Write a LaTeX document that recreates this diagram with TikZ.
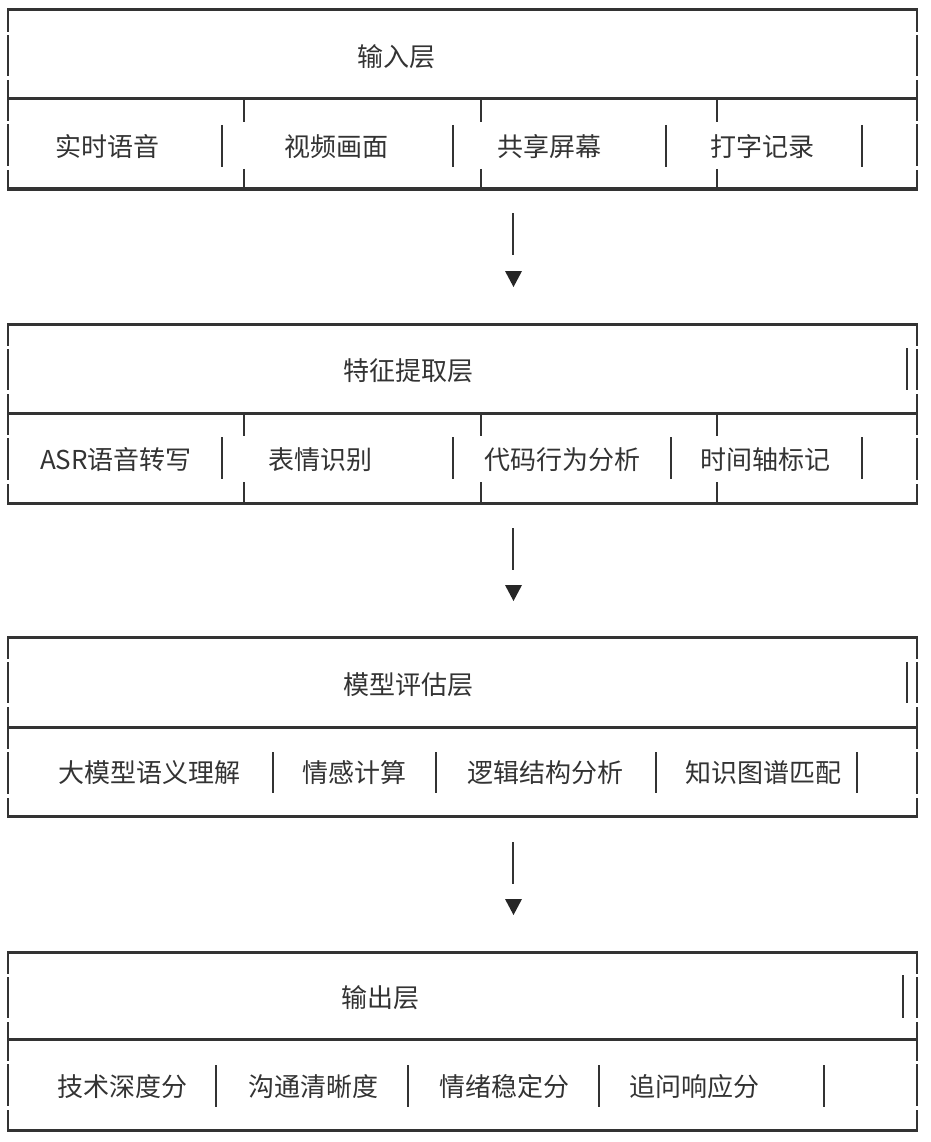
\documentclass[tikz,border=0pt]{standalone}
\usepackage{fontspec}
\setmainfont{Noto Sans CJK SC}
\begin{document}
\begin{tikzpicture}[x=1pt,y=-1pt,
  txt/.style={text=black!80,font=\fontsize{26}{30}\selectfont,inner sep=0pt,anchor=center},
  hl/.style={draw=black!80,line width=3pt},
  vl/.style={draw=black!80,line width=2.4pt},
  tri/.style={fill=black!85}]
\useasboundingbox (0,0) rectangle (930,1142);
% block macro: #1 top, #2 mid, #3 bottom
\newcommand\blockframe[3]{%
  \draw[hl] (7,#1) -- (918,#1);
  \draw[hl] (7,#2) -- (918,#2);
  \draw[hl] (7,#3) -- (918,#3);
  \foreach \xx in {8,917}{
    \draw[vl] (\xx,#1) -- (\xx,#1+22);
    \draw[vl] (\xx,#1+25) -- (\xx,#1+66);
    \draw[vl] (\xx,#1+70) -- (\xx,#2);
    \draw[vl] (\xx,#2) -- (\xx,#2+22);
    \draw[vl] (\xx,#2+25) -- (\xx,#2+67);
    \draw[vl] (\xx,#2+71) -- (\xx,#3);}
}
\newcommand\myarrow[3]{% #1 line top, #2 line bottom, #3 tri top
  \coordinate (#1a) at (513,#1);
  \coordinate (#1b) at (513,#2);
  \draw[vl] (#1a) -- (#1b);
  \fill[tri] (505,#3) -- (522,#3) -- (513.5,#3+16) -- cycle;
}
% Block 1
\blockframe{10}{99}{189}
\foreach \xx in {244,481,717}{\draw[vl] (\xx,99) -- (\xx,122); \draw[vl] (\xx,169) -- (\xx,189);}
\foreach \xx in {222,453,666,862}{\draw[vl] (\xx,125) -- (\xx,167);}
\node[txt] (t1) at (396,57) {输入层};
\node[txt] (a1) at (107,147) {实时语音};
\node[txt] (a2) at (336,147) {视频画面};
\node[txt] (a3) at (549,147) {共享屏幕};
\node[txt] (a4) at (762,147) {打字记录};
\myarrow{213}{255}{271}
% Block 2
\blockframe{324}{413}{503}
\foreach \xx in {244,481,717}{\draw[vl] (\xx,413) -- (\xx,436); \draw[vl] (\xx,482) -- (\xx,503);}
\foreach \xx in {222,453,671,862}{\draw[vl] (\xx,437) -- (\xx,479);}
\draw[vl] (907,348) -- (907,390);
\node[txt] (t2) at (408,371) {特征提取层};
\node[txt] (b1) at (116,460) {ASR语音转写};
\node[txt] (b2) at (320,460) {表情识别};
\node[txt] (b3) at (562,460) {代码行为分析};
\node[txt] (b4) at (765,460) {时间轴标记};
\myarrow{528}{570}{585}
% Block 3
\blockframe{637}{727}{816}
\foreach \xx in {273,436,656,857}{\draw[vl] (\xx,752) -- (\xx,793);}
\draw[vl] (907,662) -- (907,703);
\node[txt] (t3) at (408,685) {模型评估层};
\node[txt] (c1) at (149,773) {大模型语义理解};
\node[txt] (c2) at (354,773) {情感计算};
\node[txt] (c3) at (545,773) {逻辑结构分析};
\node[txt] (c4) at (763,773) {知识图谱匹配};
\myarrow{842}{884}{899}
% Block 4
\blockframe{952}{1039}{1130}
\foreach \xx in {216,408,599,824}{\draw[vl] (\xx,1065) -- (\xx,1107);}
\draw[vl] (903,975) -- (903,1018);
\node[txt] (t4) at (380,998) {输出层};
\node[txt] (d1) at (122,1087) {技术深度分};
\node[txt] (d2) at (313,1087) {沟通清晰度};
\node[txt] (d3) at (504,1087) {情绪稳定分};
\node[txt] (d4) at (694,1087) {追问响应分};
\end{tikzpicture}
\end{document}
